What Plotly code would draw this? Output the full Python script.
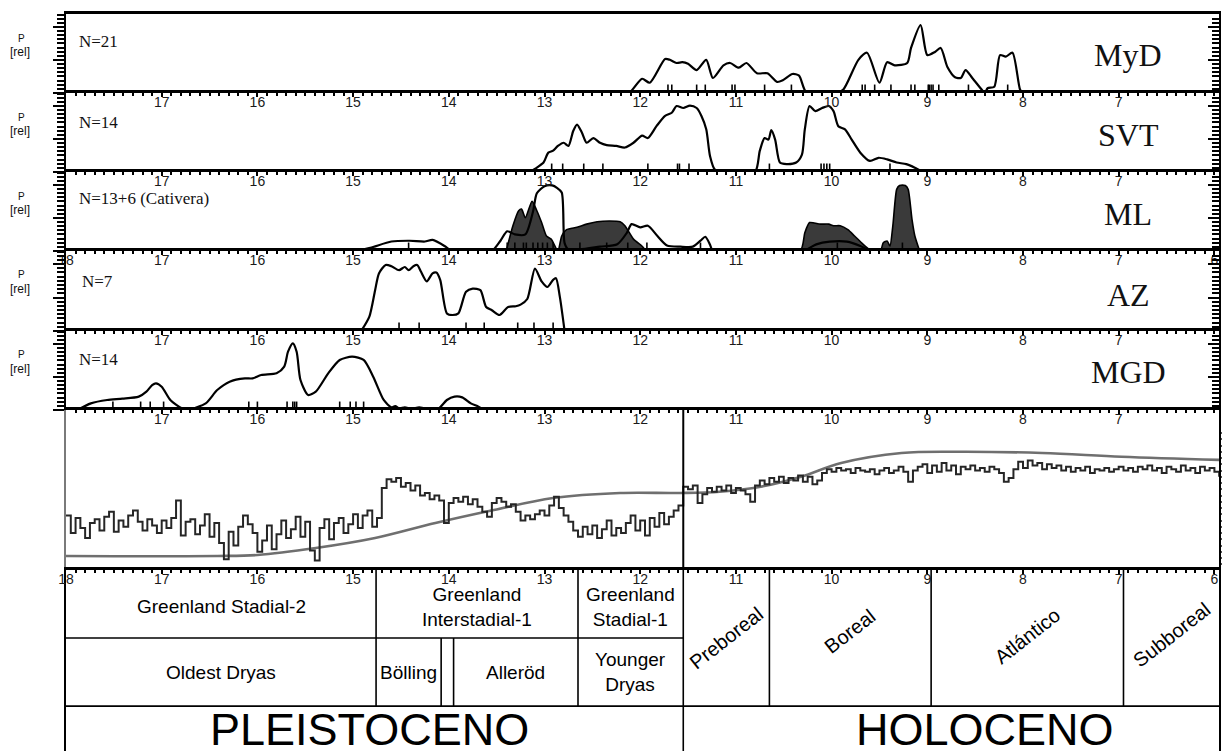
import plotly.graph_objects as go

# ---------------- data (ages in kyr cal BP, P relative) ----------------
label_ages = [17, 16, 15, 14, 13, 12, 11, 10, 9, 8, 7]
label_ages_full = [18, 17, 16, 15, 14, 13, 12, 11, 10, 9, 8, 7, 6]

site_names = ["MyD", "SVT", "ML", "AZ", "MGD"]
site_n = ["N=21", "N=14", "N=13+6 (Cativera)", "N=7", "N=14"]

myd_age = [12.21, 12.11, 11.98, 11.90, 11.74, 11.69, 11.62, 11.56, 11.50, 11.41,
           11.31, 11.24, 11.13, 11.06, 10.97, 10.89, 10.78, 10.67, 10.57, 10.51,
           10.41, 10.34, 10.26, 9.96, 9.88, 9.72, 9.63, 9.50, 9.42, 9.34,
           9.21, 9.17, 9.07, 9.00, 8.92, 8.86, 8.79, 8.71, 8.65, 8.60,
           8.53, 8.43, 8.40, 8.37, 8.30, 8.24, 8.18, 8.11, 8.03, 8.00]
myd_p = [0.0, 0.01, 0.18, 0.13, 0.43, 0.42, 0.38, 0.39, 0.37, 0.29,
         0.42, 0.19, 0.35, 0.38, 0.32, 0.38, 0.25, 0.25, 0.14, 0.16,
         0.24, 0.22, 0.0, 0.0, 0.04, 0.42, 0.51, 0.13, 0.39, 0.35,
         0.38, 0.57, 0.86, 0.48, 0.52, 0.57, 0.33, 0.20, 0.19, 0.29,
         0.19, 0.04, 0.0, 0.06, 0.08, 0.48, 0.46, 0.51, 0.04, 0.0]
myd_dates = [11.71, 11.67, 11.41, 11.32, 11.04, 11.01, 10.70, 10.42, 9.68, 9.65,
             9.55, 9.38, 9.17, 9.13, 8.99, 8.98, 8.96, 8.94, 8.88, 8.57, 8.16]

svt_age = [13.15, 13.08, 13.01, 12.96, 12.91, 12.86, 12.80, 12.75, 12.70, 12.66,
           12.61, 12.56, 12.49, 12.42, 12.35, 12.25, 12.16, 12.07, 11.98, 11.92,
           11.83, 11.74, 11.67, 11.62, 11.55, 11.48, 11.41, 11.36, 11.31, 11.27,
           11.22, 11.15, 11.03, 10.80, 10.75, 10.70, 10.66, 10.63, 10.59, 10.54,
           10.47, 10.37, 10.31, 10.28, 10.23, 10.17, 10.10, 10.03, 9.98, 9.93,
           9.86, 9.79, 9.70, 9.60, 9.51, 9.42, 9.32, 9.22, 9.13, 9.06, 9.01]
svt_p = [0.0, 0.055, 0.12, 0.245, 0.27, 0.33, 0.37, 0.33, 0.52, 0.60,
         0.50, 0.37, 0.43, 0.37, 0.34, 0.33, 0.31, 0.37, 0.46, 0.43,
         0.58, 0.71, 0.75, 0.835, 0.81, 0.84, 0.81, 0.71, 0.54, 0.20,
         0.03, 0.004, 0.0, 0.0, 0.27, 0.43, 0.41, 0.53, 0.41, 0.12,
         0.10, 0.12, 0.22, 0.54, 0.835, 0.77, 0.81, 0.835, 0.77, 0.58,
         0.54, 0.41, 0.245, 0.14, 0.18, 0.16, 0.12, 0.10, 0.055, 0.01, 0.0]
svt_dates = [12.925, 12.81, 12.59, 12.39, 11.92, 11.61, 11.59, 11.49, 10.65, 10.11,
             10.08, 10.05, 10.02, 9.39]

ml_age = [14.97, 14.82, 14.60, 14.41, 14.25, 14.17, 14.04, 13.97, 13.67, 13.61,
          13.55, 13.46, 13.39, 13.31, 13.20, 13.12, 13.08, 13.00, 12.92, 12.87,
          12.82, 12.79, 12.75, 12.63, 12.42, 12.24, 12.14, 12.09, 12.00, 11.92,
          11.82, 11.72, 11.58, 11.45, 11.37, 11.32, 11.27, 11.24, 10.30, 10.16,
          10.02, 9.84, 9.70, 9.60]
ml_p = [0.0, 0.04, 0.12, 0.13, 0.12, 0.14, 0.06, 0.0, 0.0, 0.02,
        0.0, 0.13, 0.25, 0.21, 0.21, 0.50, 0.73, 0.82, 0.83, 0.80,
        0.74, 0.10, 0.02, 0.02, 0.055, 0.085, 0.23, 0.34, 0.30, 0.32,
        0.19, 0.07, 0.055, 0.055, 0.13, 0.18, 0.08, 0.0, 0.0, 0.084,
        0.118, 0.118, 0.063, 0.0]
cat_age = [13.40, 13.33, 13.27, 13.24, 13.20, 13.13, 13.08, 13.03, 12.98, 12.93,
           12.86, 12.82, 12.77, 12.66, 12.56, 12.45, 12.32, 12.21, 12.16, 12.07,
           11.98, 11.93, 10.33, 10.28, 10.23, 10.12, 10.03, 9.98, 9.91, 9.83,
           9.76, 9.67, 9.60, 9.58, 9.49, 9.46, 9.42, 9.39, 9.36, 9.32,
           9.29, 9.23, 9.20, 9.16, 9.13, 9.08]
cat_p = [0.0, 0.32, 0.51, 0.53, 0.42, 0.63, 0.51, 0.36, 0.19, 0.15,
         0.0, 0.19, 0.27, 0.30, 0.34, 0.37, 0.38, 0.37, 0.32, 0.15,
         0.06, 0.0, 0.0, 0.23, 0.36, 0.34, 0.34, 0.32, 0.32, 0.27,
         0.19, 0.084, 0.013, 0.0, 0.0, 0.105, 0.127, 0.063, 0.32, 0.78,
         0.83, 0.83, 0.78, 0.40, 0.19, 0.0]
ml_dates = [14.42, 13.39, 13.31, 13.22, 13.19, 13.12, 13.07, 13.02, 12.97, 12.91,
            12.63, 12.35, 12.13, 11.93, 11.37, 9.94, 9.26]

az_age = [14.91, 14.83, 14.77, 14.73, 14.66, 14.60, 14.52, 14.46, 14.42, 14.37,
          14.33, 14.29, 14.23, 14.17, 14.13, 14.09, 14.02, 13.96, 13.90, 13.82,
          13.75, 13.67, 13.61, 13.55, 13.47, 13.38, 13.30, 13.25, 13.18, 13.10,
          13.03, 12.97, 12.91, 12.88, 12.84, 12.79]
az_p = [0.01, 0.18, 0.51, 0.72, 0.825, 0.81, 0.76, 0.80, 0.76, 0.81,
        0.825, 0.74, 0.62, 0.72, 0.73, 0.64, 0.22, 0.20, 0.22, 0.49,
        0.53, 0.51, 0.30, 0.26, 0.20, 0.30, 0.31, 0.33, 0.40, 0.78,
        0.62, 0.55, 0.64, 0.66, 0.43, 0.0]
az_dates = [14.52, 14.31, 13.82, 13.63, 13.28, 13.11, 12.91]

mgd_age = [17.88, 17.74, 17.57, 17.41, 17.24, 17.16, 17.10, 17.06, 17.00, 16.91,
           16.79, 16.71, 16.54, 16.42, 16.29, 16.13, 16.05, 15.96, 15.80, 15.72,
           15.68, 15.63, 15.59, 15.55, 15.47, 15.39, 15.26, 15.14, 15.01, 14.89,
           14.79, 14.68, 14.60, 14.56, 14.52, 14.46, 14.39, 14.31, 14.23, 14.11,
           14.02, 13.94, 13.86, 13.77, 13.69, 13.63]
mgd_p = [0.0, 0.084, 0.127, 0.143, 0.169, 0.232, 0.316, 0.338, 0.295, 0.127,
         0.021, 0.008, 0.084, 0.253, 0.359, 0.40, 0.40, 0.443, 0.464, 0.549,
         0.738, 0.844, 0.738, 0.38, 0.19, 0.232, 0.464, 0.633, 0.675, 0.633,
         0.422, 0.127, 0.034, 0.05, 0.021, 0.034, 0.017, 0.034, 0.017, 0.017,
         0.127, 0.169, 0.16, 0.084, 0.042, 0.0]
mgd_dates = [17.51, 17.22, 17.12, 16.98, 16.09, 16.00, 15.69, 15.63, 15.61, 15.59,
             15.14, 15.03, 14.97, 14.89]

# Greenland ice-core isotope record, 0.05 kyr steps from 18.00 to 5.95
ngrip_start, ngrip_step = 18.0, 0.05
ngrip_d18o = [
    -4.6, -6.0, -4.8, -5.6, -6.4, -5.2, -4.9, -5.8, -4.7, -4.3,
    -5.9, -5.0, -5.5, -4.6, -4.2, -5.1, -5.8, -4.9, -5.4, -6.0,
    -5.0, -5.6, -4.8, -3.4, -6.2, -5.1, -4.9, -6.1, -5.4, -4.5,
    -6.3, -5.2, -6.8, -8.1, -5.9, -7.0, -5.5, -4.6, -5.3, -6.0,
    -7.5, -6.6, -5.4, -7.3, -6.1, -5.0, -6.4, -5.7, -4.7, -6.3,
    -5.1, -7.4, -8.2, -5.6, -4.9, -6.5, -5.2, -4.8, -6.0, -5.3,
    -4.5, -5.6, -4.6, -4.2, -5.5, -4.8, -2.4, -1.7, -1.9, -1.6,
    -2.3, -2.0, -2.6, -2.2, -3.0, -2.8, -3.3, -3.0, -3.4, -5.2,
    -3.6, -3.2, -3.5, -3.1, -3.7, -3.3, -3.9, -4.3, -4.7, -3.6,
    -3.2, -3.5, -3.9, -3.7, -4.3, -5.0, -4.6, -4.9, -4.5, -4.2,
    -4.6, -3.8, -3.1, -4.0, -4.6, -5.1, -5.8, -6.3, -5.5, -6.1,
    -5.4, -6.4, -5.7, -5.0, -6.2, -5.6, -6.0, -5.2, -4.6, -5.8,
    -5.0, -6.2, -4.8, -5.5, -4.4, -5.3, -4.7, -4.2, -3.8, -2.3,
    -2.5, -2.2, -3.6, -2.9, -2.4, -2.7, -2.3, -2.6, -2.2, -2.8,
    -2.4, -2.6, -2.9, -3.5, -2.2, -1.8, -2.1, -1.6, -1.9, -1.5,
    -2.0, -1.6, -1.8, -1.4, -1.9, -1.5, -2.1, -1.8, -1.2, -0.9,
    -1.1, -0.8, -1.0, -0.9, -1.2, -0.8, -1.0, -1.1, -0.9, -1.3,
    -1.0, -0.8, -1.2, -1.0, -0.7, -1.1, -1.9, -1.0, -0.7, -0.5,
    -1.2, -0.6, -1.1, -0.4, -1.0, -0.6, -1.3, -0.7, -0.9, -0.6,
    -1.0, -0.8, -1.1, -0.7, -0.9, -1.2, -1.9, -1.6, -0.9, -0.3,
    -0.8, -0.2, -0.6, -0.4, -0.9, -0.5, -0.8, -0.6, -1.0, -0.7,
    -1.1, -0.8, -1.0, -0.7, -1.2, -0.9, -1.0, -0.8, -1.1, -0.9,
    -0.7, -1.0, -0.8, -1.1, -0.7, -0.9, -0.6, -1.0, -0.8, -1.2,
    -0.7, -0.9, -1.1, -0.6, -1.0, -0.8, -1.2, -0.7, -1.0, -0.8,
    -1.1, -1.5]
ngrip_age = [round(ngrip_start - ngrip_step * i, 2) for i in range(len(ngrip_d18o))]

smooth_age = [18.0, 17.5, 17.0, 16.42, 16.0, 15.39, 14.77, 14.14, 13.53, 12.91,
              12.21, 11.58, 11.17, 10.74, 10.32, 9.90, 9.27, 8.65, 7.80, 6.97, 5.95]
smooth_val = [-7.84, -7.86, -7.86, -7.84, -7.76, -7.2, -6.4, -5.2, -4.16, -3.2,
              -2.8, -2.8, -2.7, -2.3, -1.5, -0.4, 0.4, 0.5, 0.4, 0.1, -0.15]

# chronostratigraphic table
gs2_gi1, gi1_gs1, pleist_holo = 14.76, 12.65, 11.55
older_dryas = [14.08, 13.95]
holo_bounds = [10.65, 8.96, 6.95]
row1_labels = ["Greenland Stadial-2", "Greenland<br>Interstadial-1", "Greenland<br>Stadial-1"]
row2_labels = ["Oldest Dryas", "Bölling", "Alleröd", "Younger<br>Dryas"]
holo_labels = ["Preboreal", "Boreal", "Atlántico", "Subboreal"]
epoch_labels = ["PLEISTOCENO", "HOLOCENO"]

# ---------------- figure geometry ----------------
OFF = 8                      # page body margin of the html page
FW, FH = 1230 - OFF, 751 - OFF
PX_L, PX_R = 66, 1219        # target window pixels of plot frame
AGE_OLD, AGE_YOUNG = 18.0, 5.952
PANELS = [(14, 93), (93, 172), (172, 251), (251, 331), (331, 410), (410, 570), (570, 751)]
ISO_RANGE = [-8.96, 3.84]
TABLE_RANGE = [2.66, 0]
SANS = "Liberation Sans"
SERIF = "Liberation Serif"


def fx(px):
    return (px - OFF) / FW


def fy(py):
    return 1 - (py - OFF) / FH


def sfx(k):
    return "" if k == 1 else str(k)


fig = go.Figure()

curves = [(myd_age, myd_p, myd_dates), (svt_age, svt_p, svt_dates), (ml_age, ml_p, ml_dates),
          (az_age, az_p, az_dates), (mgd_age, mgd_p, mgd_dates)]

for k, (ages, ps, dates) in enumerate(curves, start=1):
    xa, ya = "x" + sfx(k), "y" + sfx(k)
    if k == 3:
        fig.add_trace(go.Scatter(x=cat_age, y=cat_p, xaxis=xa, yaxis=ya, mode="lines",
                                 fill="tozeroy", fillcolor="#3a3a3a",
                                 line=dict(color="black", width=1.6, shape="spline", smoothing=0.6),
                                 hoverinfo="skip"))
    fig.add_trace(go.Scatter(x=ages, y=ps, xaxis=xa, yaxis=ya, mode="lines",
                             line=dict(color="black", width=2.2, shape="spline", smoothing=0.7),
                             hoverinfo="skip"))
    fig.add_trace(go.Scatter(x=dates, y=[0.045] * len(dates), xaxis=xa, yaxis=ya, mode="markers",
                             marker=dict(symbol="line-ns-open", size=7, color="black",
                                         line=dict(width=1.6, color="black")),
                             hoverinfo="skip"))

fig.add_trace(go.Scatter(x=smooth_age, y=smooth_val, xaxis="x6", yaxis="y6", mode="lines",
                         line=dict(color="#6f6f6f", width=2.6, shape="spline", smoothing=1.0),
                         hoverinfo="skip"))
fig.add_trace(go.Scatter(x=ngrip_age, y=ngrip_d18o, xaxis="x6", yaxis="y6", mode="lines",
                         line=dict(color="#262626", width=2.0, shape="hv"),
                         hoverinfo="skip"))

# placeholders registering the right-hand overlay axes
for k in range(1, 7):
    fig.add_trace(go.Scatter(x=[None], y=[None], xaxis="x" + sfx(k), yaxis="y" + str(7 + k),
                             mode="lines", hoverinfo="skip"))

layout = dict(width=FW, height=FH, margin=dict(l=0, r=0, t=0, b=0, autoexpand=False),
              paper_bgcolor="white", plot_bgcolor="white", showlegend=False)

xdom = [fx(PX_L), fx(PX_R)]
for k in range(1, 8):
    top, bot = PANELS[k - 1]
    ydom = [max(0.0, fy(bot)), fy(top)]
    xa = dict(domain=xdom, range=[AGE_OLD, AGE_YOUNG], anchor="y" + sfx(k), side="top",
              showline=True, linecolor="black", linewidth=2.5, showgrid=False, zeroline=False,
              automargin=False)
    if k == 1:
        xa.update(ticks="", showticklabels=False)
    else:
        vals = label_ages_full if k in (4, 7) else label_ages
        xa.update(ticks="inside", tickmode="array", tickvals=vals, ticktext=[str(v) for v in vals],
                  ticklen=4, tickwidth=1.5, tickcolor="black",
                  ticklabelposition="inside", ticklabeloverflow="allow",
                  tickfont=dict(family=SANS, size=14, color="#1a1a1a"),
                  minor=dict(dtick=0.1, tick0=18, ticks="inside", ticklen=3, tickwidth=1.5,
                             tickcolor="black"))
    layout["xaxis" + sfx(k)] = xa

    ya = dict(domain=ydom, anchor="x" + sfx(k), showgrid=False, zeroline=False,
              showticklabels=False, showline=True, linecolor="black", linewidth=2,
              automargin=False)
    if k <= 5:
        ya.update(range=[0, 1.0], ticks="outside", tickmode="array", tickvals=[0, 0.418, 0.836],
                  ticklen=11, tickwidth=2.2, tickcolor="black",
                  minor=dict(dtick=0.05225, tick0=0, ticks="outside", ticklen=7, tickwidth=1.8,
                             tickcolor="black"))
        layout["yaxis" + str(7 + k)] = dict(
            overlaying="y" + sfx(k), anchor="x" + sfx(k), side="right", range=[0, 1.0],
            showgrid=False, zeroline=False, showticklabels=False, showline=True,
            linecolor="black", linewidth=2, ticks="inside", tickmode="array",
            tickvals=[0, 0.418, 0.836], ticklen=11, tickwidth=2.2, tickcolor="black",
            automargin=False,
            minor=dict(dtick=0.05225, tick0=0, ticks="inside", ticklen=7, tickwidth=1.8,
                       tickcolor="black"))
    elif k == 6:
        ya.update(range=ISO_RANGE, ticks="", linecolor="#7a7a7a")
        iso_ticks = list(range(-8, 3))
        layout["yaxis13"] = dict(
            overlaying="y6", anchor="x6", side="right", range=ISO_RANGE,
            showgrid=False, zeroline=False, showline=True, linecolor="black", linewidth=2,
            ticks="outside", tickmode="array", tickvals=iso_ticks,
            ticktext=[str(abs(v)) for v in iso_ticks], ticklen=6, tickwidth=1.5,
            tickcolor="#555", tickfont=dict(family=SANS, size=12, color="#777"),
            ticklabelstandoff=-3, automargin=False,
            minor=dict(tickvals=[v + 0.5 for v in range(-9, 2)], ticks="outside", ticklen=6,
                       tickwidth=1.5, tickcolor="#555"))
    else:
        ya.update(range=TABLE_RANGE, ticks="", mirror=True)
    layout["yaxis" + sfx(k)] = ya

fig.update_layout(**layout)

# ---- shapes: Pleistocene/Holocene boundary in isotope panel + table grid ----
line_style = dict(color="black", width=1.6)
fig.add_shape(type="line", xref="x6", yref="y6 domain", x0=pleist_holo, x1=pleist_holo,
              y0=0, y1=1, line=dict(color="black", width=2))
for a in [gs2_gi1, gi1_gs1] + holo_bounds:
    fig.add_shape(type="line", xref="x7", yref="y7", x0=a, x1=a, y0=0, y1=2, line=line_style)
for a in older_dryas:
    fig.add_shape(type="line", xref="x7", yref="y7", x0=a, x1=a, y0=1, y1=2, line=line_style)
fig.add_shape(type="line", xref="x7", yref="y7", x0=pleist_holo, x1=pleist_holo,
              y0=0, y1=TABLE_RANGE[0], line=line_style)
fig.add_shape(type="line", xref="x7", yref="y7", x0=AGE_OLD, x1=pleist_holo, y0=1, y1=1,
              line=line_style)
fig.add_shape(type="line", xref="x7", yref="y7", x0=AGE_OLD, x1=AGE_YOUNG, y0=2, y1=2,
              line=line_style)

# ---- annotations ----
ann = []
n_offsets = [28, 29, 27, 30, 29]
name_offsets = [41, 42, 42, 44, 41]
for k in range(1, 6):
    top, bot = PANELS[k - 1]
    ann.append(dict(xref="paper", yref="paper", x=fx(21), y=fy(top + 24),
                    text="P", showarrow=False, xanchor="center", yanchor="middle", borderpad=0,
                    font=dict(family=SANS, size=10, color="#111")))
    ann.append(dict(xref="paper", yref="paper", x=fx(20), y=fy(top + 38),
                    text="[rel]", showarrow=False, xanchor="center", yanchor="middle",
                    borderpad=0, font=dict(family=SANS, size=12, color="#111")))
    ann.append(dict(xref="paper", yref="paper", x=fx(77 if k != 4 else 80),
                    y=fy(top + n_offsets[k - 1]), text=site_n[k - 1], showarrow=False,
                    xanchor="left", yanchor="middle",
                    font=dict(family=SERIF, size=17, color="#111")))
    ann.append(dict(xref="paper", yref="paper", x=fx(1128),
                    y=fy(top + name_offsets[k - 1]), text=site_names[k - 1],
                    showarrow=False, xanchor="center", yanchor="middle",
                    font=dict(family=SERIF, size=32, color="#111")))

row1_cells = [(AGE_OLD, gs2_gi1), (gs2_gi1, gi1_gs1), (gi1_gs1, pleist_holo)]
for (a0, a1), t in zip(row1_cells, row1_labels):
    ann.append(dict(xref="x7", yref="y7", x=(a0 + a1) / 2, y=0.54, text=t, showarrow=False,
                    borderpad=0, font=dict(family=SANS, size=19, color="black")))
row2_cells = [(AGE_OLD, gs2_gi1), (gs2_gi1, older_dryas[0]), (older_dryas[1], gi1_gs1),
              (gi1_gs1, pleist_holo)]
for (a0, a1), t in zip(row2_cells, row2_labels):
    ann.append(dict(xref="x7", yref="y7", x=(a0 + a1) / 2, y=1.5, text=t, showarrow=False,
                    font=dict(family=SANS, size=19, color="black")))
holo_cells = [(pleist_holo, holo_bounds[0]), (holo_bounds[0], holo_bounds[1]),
              (holo_bounds[1], holo_bounds[2]), (holo_bounds[2], AGE_YOUNG)]
holo_y = [1.0, 0.9, 0.97, 0.95]
for (a0, a1), t, yy in zip(holo_cells, holo_labels, holo_y):
    ann.append(dict(xref="x7", yref="y7", x=(a0 + a1) / 2, y=yy, text=t, showarrow=False,
                    textangle=-38, font=dict(family=SANS, size=20, color="black")))
ann.append(dict(xref="x7", yref="y7", x=(AGE_OLD + pleist_holo) / 2 + 0.05, y=2.34,
                text=epoch_labels[0], showarrow=False, borderpad=0,
                font=dict(family=SANS, size=45, color="black")))
ann.append(dict(xref="x7", yref="y7", x=8.4, y=2.34, text=epoch_labels[1], showarrow=False,
                borderpad=0, font=dict(family=SANS, size=45, color="black")))

fig.update_layout(annotations=ann)

fig.write_html("out.html")
